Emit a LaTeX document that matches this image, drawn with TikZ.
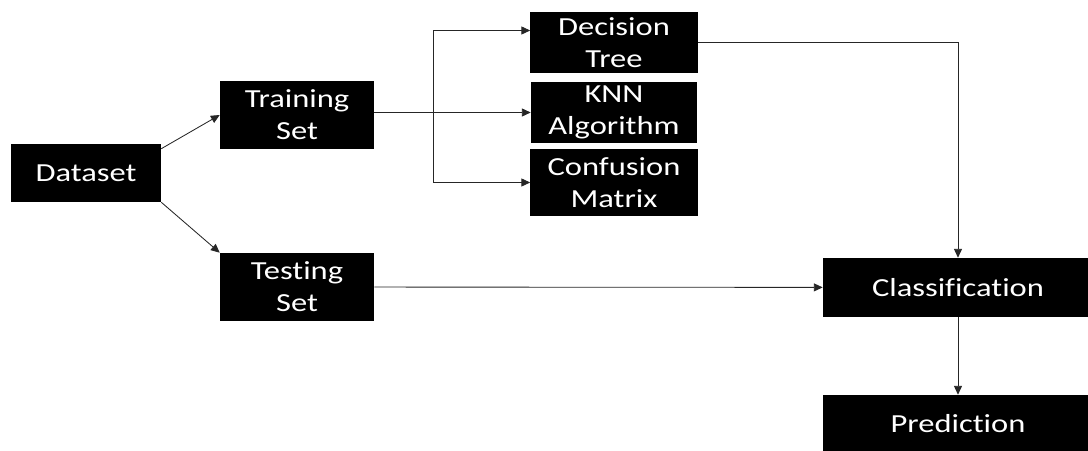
\documentclass[tikz,border=0pt]{standalone}
\usepackage{fontspec}
\newfontfamily\boxfont{Carlito}[FakeStretch=1.25, Ligatures=NoCommon]
\usetikzlibrary{arrows.meta,positioning,calc}

\begin{document}
\begin{tikzpicture}[
    x=0.025cm, y=-0.025cm,
    box/.style={fill=black, text=white, inner sep=0pt, align=center,
        font=\boxfont\fontsize{18.5}{22.8}\selectfont},
    link/.style={->, draw=black!85, line width=0.6pt},
    >={Triangle[length=2.2mm,width=2mm]}
]
    \useasboundingbox (0,0) rectangle (1088,451);

    \node[box, minimum width=3.75cm, minimum height=1.45cm] (data) at (86,173) {Dataset};
    \node[box, minimum width=3.85cm, minimum height=1.7cm] (train) at (297,115) {Training\\Set};
    \node[box, minimum width=3.85cm, minimum height=1.7cm] (test) at (297,287) {Testing\\Set};

    % the three learners
    \node[box, minimum width=4.175cm, minimum height=1.525cm] (tree) at (614,42.5) {Decision\\Tree};
    \node[box, minimum width=4.15cm, minimum height=1.525cm] (knn) at (614,112.5) {KNN\\Algorithm};
    \node[box, minimum width=4.175cm, minimum height=1.675cm] (conf) at (614,182.5) {Confusion\\Matrix};

    \node[box, minimum width=6.75cm, minimum height=1.475cm] (cls) at (958,287.5) {Classification};
    \node[box, minimum width=6.75cm, minimum height=1.45cm] (pred) at (958,424) {Prediction};

    \coordinate (split) at (433,112.5);

    \draw[link] ($(data.north east)+(0,5)$) -- (train.west);
    \draw[link] (data.south east) -- (test.north west);

    \draw[link] (train.east |- knn) -- (knn);
    \draw[link] (split) |- ($(tree.west)+(0,-12)$);
    \draw[link] (split) |- (conf.west);

    \draw[link] (tree.east) -| (cls.north);
    \draw[link] (test) -- (cls);
    \draw[link] (cls) -- (pred);
\end{tikzpicture}
\end{document}
